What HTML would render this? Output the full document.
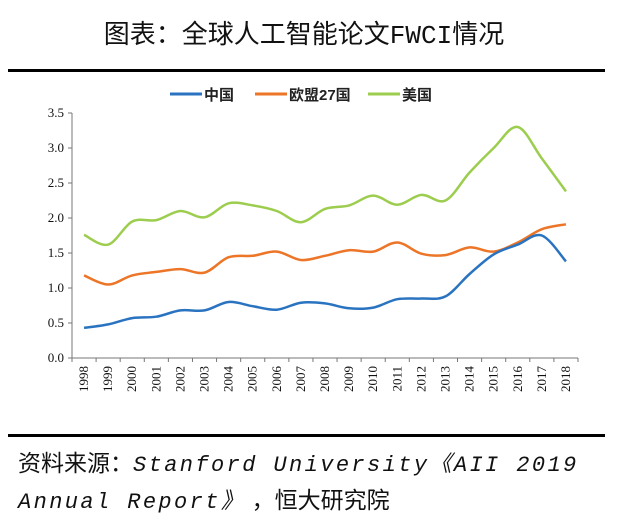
<!DOCTYPE html>
<html><head><meta charset="utf-8">
<style>
body{margin:0;background:#fff;width:636px;height:520px;overflow:hidden;position:relative;font-family:"Liberation Sans","Noto Sans CJK SC",sans-serif;}
#title{position:absolute;top:14px;left:0;width:608px;text-align:center;font-size:26px;color:#111;white-space:nowrap;}
#title .m{font-family:"Liberation Mono","Noto Sans CJK SC",monospace;}
.rule{position:absolute;left:8px;width:597px;height:3px;background:#000;}
#src{position:absolute;left:18px;top:446px;font-size:23px;line-height:34px;color:#111;white-space:nowrap;}
#src i{font-family:"Liberation Mono","Noto Sans CJK SC",monospace;font-size:22px;letter-spacing:2.4px;}
svg{position:absolute;left:0;top:0;}
</style></head><body>
<div id="title">图表：全球人工智能论文<span class="m">FWCI</span>情况</div>
<div class="rule" style="top:69px"></div>
<svg id="chart" width="636" height="520"></svg>
<div class="rule" style="top:434px"></div>
<div id="src">资料来源：<i>Stanford University《AII 2019<br>Annual Report》</i>&nbsp;，恒大研究院</div>
<script>
const years=[1998,1999,2000,2001,2002,2003,2004,2005,2006,2007,2008,2009,2010,2011,2012,2013,2014,2015,2016,2017,2018];
const china=[0.43,0.48,0.57,0.59,0.68,0.68,0.80,0.74,0.69,0.79,0.78,0.71,0.72,0.84,0.85,0.88,1.20,1.48,1.62,1.75,1.38];
const eu=[1.18,1.05,1.18,1.23,1.27,1.22,1.44,1.46,1.52,1.40,1.46,1.54,1.52,1.65,1.49,1.47,1.58,1.52,1.65,1.84,1.91];
const us=[1.76,1.62,1.95,1.97,2.10,2.01,2.21,2.18,2.10,1.94,2.13,2.18,2.32,2.19,2.33,2.25,2.65,3.00,3.30,2.85,2.38];
const yTicks=["0.0","0.5","1.0","1.5","2.0","2.5","3.0","3.5"];
const seriesNames=["中国","欧盟27国","美国"];
const NS="http://www.w3.org/2000/svg";
const svg=document.getElementById('chart');
const x0=72,x1=578,yB=358,yT=113;
const step=(x1-x0)/years.length;
const xs=i=>x0+step*(i+0.5);
const ys=v=>yB-(v/3.5)*(yB-yT);
function mk(t,a){const e=document.createElementNS(NS,t);for(const k in a)e.setAttribute(k,a[k]);svg.appendChild(e);return e;}
let e;
e=mk('line',{x1:x0,y1:yT,x2:x0,y2:yB,stroke:'#777','stroke-width':1});

e=mk('line',{x1:x0,y1:yB,x2:x1,y2:yB,stroke:'#777','stroke-width':1});

yTicks.forEach(t=>{const y=ys(+t);
 e=mk('line',{x1:x0-4,y1:y,x2:x0,y2:y,stroke:'#777'});
 
 e=mk('text',{x:x0-8,y:y+4,'text-anchor':'end','font-size':13,'font-family':'Liberation Serif, serif',fill:'#111'});e.textContent=t;
 
});
for(let i=0;i<=years.length;i++){const x=x0+step*i;
 e=mk('line',{x1:x,y1:yB,x2:x,y2:yB+4,stroke:'#777'});
 }
years.forEach((yr,i)=>{const x=xs(i);
 e=mk('text',{x:0,y:0,transform:`translate(${x+4},${yB+8}) rotate(-90)`,'text-anchor':'end','font-size':13,'font-family':'Liberation Serif, serif',fill:'#111'});e.textContent=yr;
 });
function path(vals){const p=vals.map((v,i)=>[xs(i),ys(v)]);let d=`M${p[0][0]},${p[0][1]}`;
 for(let i=0;i<p.length-1;i++){const a=p[i-1]||p[i],b=p[i],c=p[i+1],n=p[i+2]||c;
  d+=` C${b[0]+(c[0]-a[0])/6},${b[1]+(c[1]-a[1])/6} ${c[0]-(n[0]-b[0])/6},${c[1]-(n[1]-b[1])/6} ${c[0]},${c[1]}`;}return d;}
const cols=['#2a73c0','#ec7527','#9ccd4e'];
[us,eu,china].forEach((s,k)=>{const idx=[2,1,0][k];
 e=mk('path',{d:path(s),fill:'none',stroke:cols[idx],'stroke-width':2.5});
 });
const lx=[170,255,368];
seriesNames.forEach((n,i)=>{
 e=mk('line',{x1:lx[i],y1:94,x2:lx[i]+32,y2:94,stroke:cols[i],'stroke-width':3});
 
 e=mk('text',{x:lx[i]+34,y:100,'font-size':15,'font-weight':'bold','font-family':'Liberation Sans, Noto Sans CJK SC, sans-serif',fill:'#222'});e.textContent=n;
 });
</script>
</body></html>
